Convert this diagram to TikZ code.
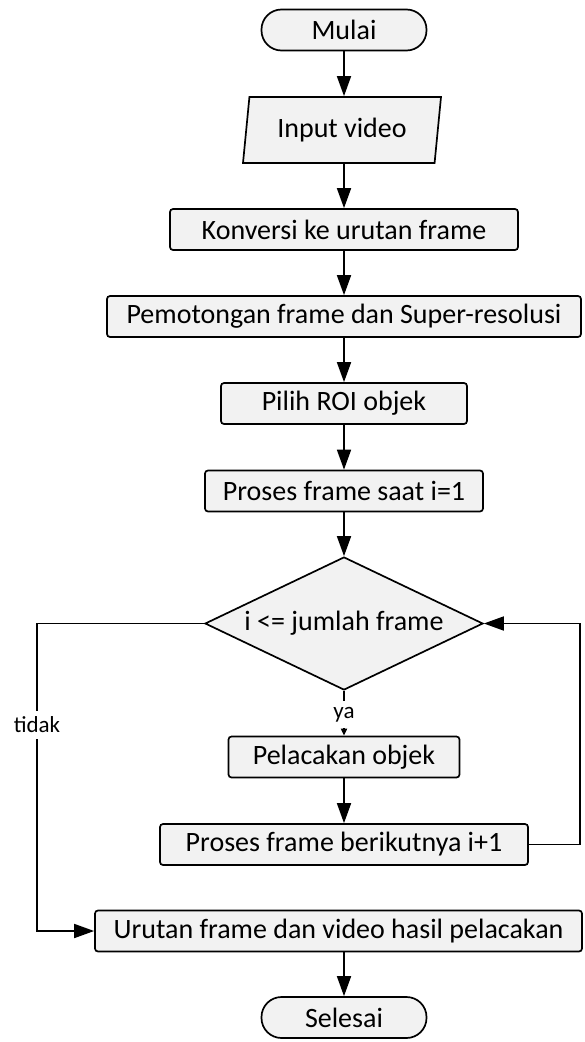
\documentclass[tikz,border=0pt]{standalone}
\usepackage{fontspec}
\setmainfont{Carlito}
\usetikzlibrary{arrows.meta,shapes.geometric}
\definecolor{boxfill}{HTML}{F2F2F2}
\tikzset{
  >={Triangle[length=20pt,width=14pt]},
  base/.style ={draw, line width=1.7pt, fill=boxfill, inner sep=0pt, font=\fontsize{28}{34}\selectfont},
  term/.style ={base, rounded corners=20pt, minimum width=165pt, minimum height=41pt},
  proc/.style ={base, rounded corners=3pt, minimum height=41pt},
  io/.style   ={base, trapezium, trapezium left angle=75, trapezium right angle=105,
                trapezium stretches body, minimum width=198pt, minimum height=66pt},
  cond/.style ={base, diamond, aspect=2.1, minimum width=278pt, minimum height=133pt},
  lbl/.style  ={fill=white, inner sep=6pt, font=\fontsize{23}{27}\selectfont},
  flow/.style ={->, line width=1.7pt}
}
\begin{document}
\begin{tikzpicture}[x=1pt, y=-1pt]
\useasboundingbox (0,0) rectangle (585,1042);
\coordinate (xl) at (37,0);
\coordinate (xr) at (580,0);
\node[term] (mulai) at (344,30) {Mulai};
\node[io] (input) at (342,130) {Input video};
\node[proc, minimum width=348pt] (konversi) at (344,229.5) {Konversi ke urutan frame};
\node[proc, minimum width=474pt] (potong) at (344,316.5) {Pemotongan frame dan Super-resolusi};
\node[proc, minimum width=246pt] (roi) at (344,403.5) {Pilih ROI objek};
\node[proc, minimum width=278pt] (proses1) at (344,491) {Proses frame saat i=1};
\node[cond] (cek) at (344,623.5) {i <= jumlah frame};
\node[proc, minimum width=231pt] (lacak) at (344,757) {Pelacakan objek};
\node[proc, minimum width=368pt] (proses2) at (344,844.5) {Proses frame berikutnya i+1};
\node[proc, minimum width=487pt] (urutan) at (338.5,931) {Urutan frame dan video hasil pelacakan};
\node[term] (selesai) at (344,1017.5) {Selesai};
% alur utama
\draw[flow] (mulai) -- (mulai |- input.north);
\foreach \a/\b in {konversi/potong, potong/roi, roi/proses1, proses1/cek, lacak/proses2}
  \draw[flow] (\a) -- (\a |- \b.north);
\draw[flow] (input.south -| konversi) -- (konversi.north);
\draw[flow] (urutan.south -| selesai) -- (selesai.north);
\draw[line width=1.7pt, -{Triangle[length=7pt,width=6pt]}] (cek.south) -- node[lbl, pos=0.53]{ya} (lacak.north);
% cabang tidak dan perulangan
\draw[flow] (cek.west) -- (cek.west -| xl) -- node[lbl, pos=0.33]{tidak} (urutan.west -| xl) -- (urutan.west);
\draw[flow] (proses2.east) -- (proses2.east -| xr) -- (cek.east -| xr) -- (cek.east);
\end{tikzpicture}
\end{document}
